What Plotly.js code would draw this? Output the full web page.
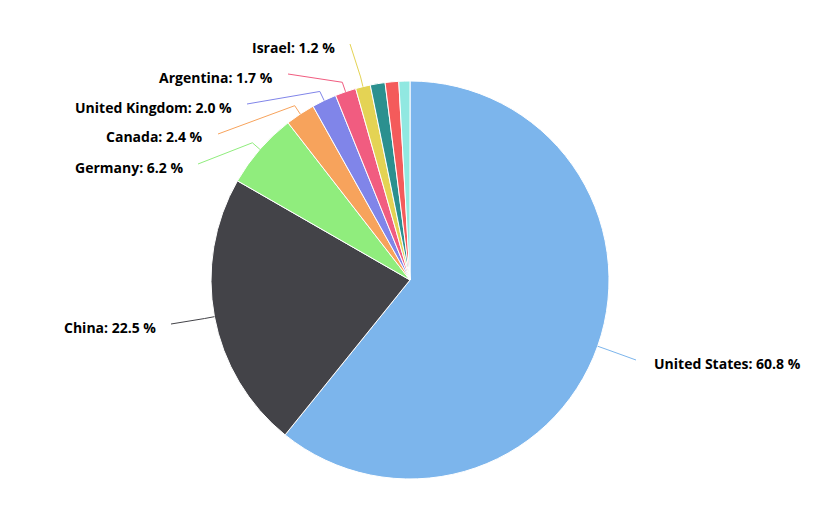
<!DOCTYPE html>
<html>
<head>
<meta charset="utf-8">
<script src="https://cdn.plot.ly/plotly-3.0.1.min.js"></script>
<style>html,body{margin:0;padding:0;background:#fff;}#chart{width:822px;height:521px;}</style>
</head>
<body>
<div id="chart"></div>
<script>
// ---- data ----
const countries = ["United States", "China", "Germany", "Canada", "United Kingdom", "Argentina", "Israel", "Other A", "Other B", "Other C"];
const shares = [60.8, 22.5, 6.2, 2.4, 2.0, 1.7, 1.2, 1.2, 1.1, 0.9];
const showLabel = [true, true, true, true, true, true, true, false, false, false];
const colors = ["#7cb5ec", "#434348", "#90ed7d", "#f7a35c", "#8085e9", "#f15c80", "#e4d354", "#2b908f", "#f45b5b", "#91e8e1"];

// ---- layout constants (pixels) ----
const W = 822, H = 521;
const CX = 410, CY = 280, R = 199;
// label anchor (text edge, centre y) per labelled slice
const labelAnchor = {
  "United States": [652, 363],
  "China": [158, 327],
  "Germany": [185, 167],
  "Canada": [205, 137],
  "United Kingdom": [234, 107],
  "Argentina": [275, 77],
  "Israel": [337, 47]
};

const px = x => x / W;
const py = y => 1 - y / H;

const total = shares.reduce((a, b) => a + b, 0);
const annotations = [];
const shapes = [];
let cum = 0;
shares.forEach((v, i) => {
  const mid = (cum + v / 2) / total * 2 * Math.PI;
  cum += v;
  if (!showLabel[i]) return;
  const name = countries[i];
  const s = Math.sin(mid), c = Math.cos(mid);
  const edge = [CX + R * s, CY - R * c];
  const bend = [CX + (R + 10) * s, CY - (R + 10) * c];
  const a = labelAnchor[name];
  const right = s > 0;
  const cEnd = [a[0] + (right ? -16 : 13), a[1] - 3];
  annotations.push({
    xref: "paper", yref: "paper",
    x: px(a[0]), y: py(a[1]),
    xanchor: right ? "left" : "right", yanchor: "middle",
    text: "<b>" + name + ": " + v.toFixed(1) + " %</b>",
    showarrow: false,
    font: {family: "Open Sans, sans-serif", size: 14, color: "#000000"}
  });
  shapes.push({
    type: "path", xref: "paper", yref: "paper",
    path: `M ${px(cEnd[0])} ${py(cEnd[1])} L ${px(bend[0])} ${py(bend[1])} L ${px(edge[0])} ${py(edge[1])}`,
    line: {color: colors[i], width: 1}
  });
});

const trace = {
  type: "pie",
  labels: countries,
  values: shares,
  sort: false,
  direction: "clockwise",
  rotation: 0,
  textinfo: "none",
  hoverinfo: "label+percent",
  marker: {colors: colors, line: {color: "#ffffff", width: 1}},
  domain: {x: [px(CX - R), px(CX + R)], y: [py(CY + R), py(CY - R)]},
  showlegend: false
};

Plotly.newPlot("chart", [trace], {
  width: W, height: H,
  margin: {l: 0, r: 0, t: 0, b: 0},
  paper_bgcolor: "#ffffff",
  showlegend: false,
  annotations: annotations,
  shapes: shapes
}, {displayModeBar: false});
</script>
</body>
</html>
